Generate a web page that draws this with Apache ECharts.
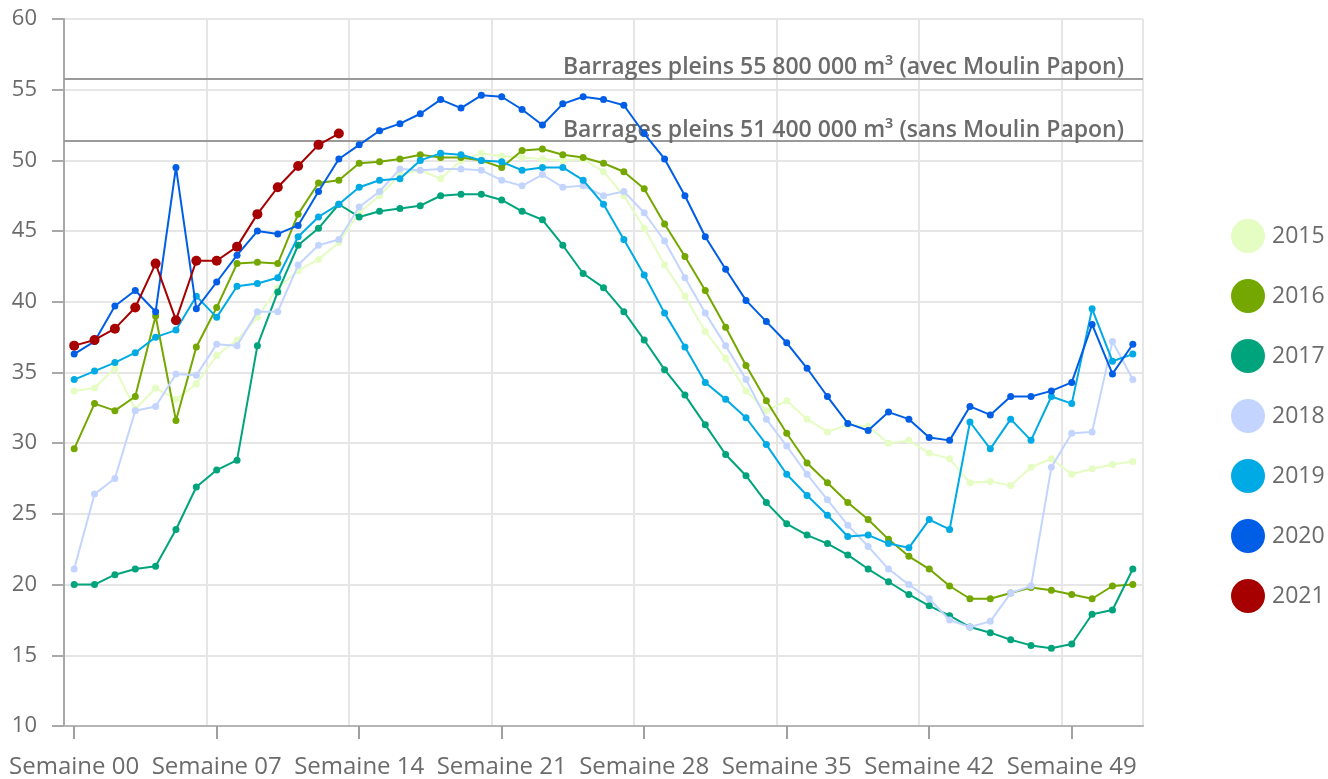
<!DOCTYPE html>
<html lang="fr">
<head>
<meta charset="utf-8">
<title>Remplissage des barrages</title>
<script src="https://cdn.jsdelivr.net/npm/echarts@6/dist/echarts.min.js"></script>
<style>
  html, body { margin: 0; padding: 0; background: #fff; }
  #chart { width: 1328px; height: 779px; }
</style>
</head>
<body>
<div id="chart"></div>
<script>
// Semaines de l'année
const weeks = [
  'Semaine 00','Semaine 01','Semaine 02','Semaine 03','Semaine 04','Semaine 05','Semaine 06',
  'Semaine 07','Semaine 08','Semaine 09','Semaine 10','Semaine 11','Semaine 12','Semaine 13',
  'Semaine 14','Semaine 15','Semaine 16','Semaine 17','Semaine 18','Semaine 19','Semaine 20',
  'Semaine 21','Semaine 22','Semaine 23','Semaine 24','Semaine 25','Semaine 26','Semaine 27',
  'Semaine 28','Semaine 29','Semaine 30','Semaine 31','Semaine 32','Semaine 33','Semaine 34',
  'Semaine 35','Semaine 36','Semaine 37','Semaine 38','Semaine 39','Semaine 40','Semaine 41',
  'Semaine 42','Semaine 43','Semaine 44','Semaine 45','Semaine 46','Semaine 47','Semaine 48',
  'Semaine 49','Semaine 50','Semaine 51','Semaine 52'
];

// Volume stocké (millions de m³) par semaine et par année
const v2015 = [33.7,33.9,35.3,32.4,33.9,33.1,34.2,36.2,37.3,38.9,41.0,42.2,43.0,44.2,46.3,47.5,49.0,49.3,48.7,50.0,50.5,50.3,50.2,50.1,50.0,50.1,49.2,47.5,45.2,42.6,40.4,37.9,36.0,33.7,32.3,33.0,31.7,30.8,31.3,31.2,30.0,30.2,29.3,28.9,27.2,27.3,27.0,28.3,28.9,27.8,28.2,28.5,28.7];
const v2016 = [29.6,32.8,32.3,33.3,39.0,31.6,36.8,39.6,42.7,42.8,42.7,46.2,48.4,48.6,49.8,49.9,50.1,50.4,50.2,50.2,50.0,49.5,50.7,50.8,50.4,50.2,49.8,49.2,48.0,45.5,43.2,40.8,38.2,35.5,33.0,30.7,28.6,27.2,25.8,24.6,23.2,22.0,21.1,19.9,19.0,19.0,19.4,19.8,19.6,19.3,19.0,19.9,20.0];
const v2017 = [20.0,20.0,20.7,21.1,21.3,23.9,26.9,28.1,28.8,36.9,40.7,44.0,45.2,46.9,46.0,46.4,46.6,46.8,47.5,47.6,47.6,47.2,46.4,45.8,44.0,42.0,41.0,39.3,37.3,35.2,33.4,31.3,29.2,27.7,25.8,24.3,23.5,22.9,22.1,21.1,20.2,19.3,18.5,17.8,17.0,16.6,16.1,15.7,15.5,15.8,17.9,18.2,21.1];
const v2018 = [21.1,26.4,27.5,32.3,32.6,34.9,34.8,37.0,36.9,39.3,39.3,42.6,44.0,44.4,46.7,47.8,49.4,49.3,49.4,49.4,49.3,48.6,48.2,49.0,48.1,48.2,47.5,47.8,46.3,44.3,41.7,39.2,36.9,34.5,31.7,29.8,27.8,26.0,24.2,22.7,21.1,20.0,19.0,17.5,17.0,17.4,19.4,19.9,28.3,30.7,30.8,37.2,34.5];
const v2019 = [34.5,35.1,35.7,36.4,37.5,38.0,40.4,38.9,41.1,41.3,41.7,44.6,46.0,46.9,48.1,48.6,48.7,50.0,50.5,50.4,50.0,49.9,49.3,49.5,49.5,48.6,46.9,44.4,41.9,39.2,36.8,34.3,33.1,31.8,29.9,27.8,26.3,24.9,23.4,23.5,22.9,22.6,24.6,23.9,31.5,29.6,31.7,30.2,33.3,32.8,39.5,35.8,36.3];
const v2020 = [36.3,37.2,39.7,40.8,39.3,49.5,39.5,41.4,43.3,45.0,44.8,45.4,47.8,50.1,51.1,52.1,52.6,53.3,54.3,53.7,54.6,54.5,53.6,52.5,54.0,54.5,54.3,53.9,51.9,50.1,47.5,44.6,42.3,40.1,38.6,37.1,35.3,33.3,31.4,30.9,32.2,31.7,30.4,30.2,32.6,32.0,33.3,33.3,33.7,34.3,38.4,34.9,37.0];
const v2021 = [36.9,37.3,38.1,39.6,42.7,38.7,42.9,42.9,43.9,46.2,48.1,49.6,51.1,51.9];

const years  = ['2015','2016','2017','2018','2019','2020','2021'];
const values = [v2015, v2016, v2017, v2018, v2019, v2020, v2021];
const colors = ['#e5fcc2','#74a700','#00a47c','#c3d5ff','#00aae4','#005ee6','#a60000'];

// Capacités de référence
const fullWith    = 55.8;
const fullWithout = 51.4;
const fullWithLabel    = 'Barrages pleins 55 800 000 m³ (avec Moulin Papon)';
const fullWithoutLabel = 'Barrages pleins 51 400 000 m³ (sans Moulin Papon)';

const FONT = 'Open Sans';
const TEXT = '#6b6b6b';

const series = years.map((y, i) => ({
  name: y,
  type: 'line',
  data: values[i],
  color: colors[i],
  symbol: 'circle',
  symbolSize: y === '2021' ? 10 : 7,
  showSymbol: true,
  lineStyle: { width: 2, color: colors[i] },
  itemStyle: { color: colors[i] },
  z: 2 + i
}));

// Lignes de capacité, dessinées au-dessus des courbes
series.push({
  name: 'capacite',
  type: 'line',
  data: [],
  z: 20,
  silent: true,
  markLine: {
    silent: true,
    symbol: ['none', 'none'],
    animation: false,
    lineStyle: { color: '#9a9a9a', width: 2, type: 'solid' },
    label: {
      position: 'insideEndTop',
      color: TEXT,
      fontFamily: FONT,
      fontWeight: 600,
      fontSize: 23,
      padding: [0, 20, 0, 0],
      distance: -1
    },
    data: [
      { yAxis: fullWith,    label: { formatter: fullWithLabel } },
      { yAxis: fullWithout, label: { formatter: fullWithoutLabel } }
    ]
  }
});

const chart = echarts.init(document.getElementById('chart'), null, { renderer: 'canvas' });
chart.setOption({
  animation: false,
  backgroundColor: '#ffffff',
  grid: { left: 64, right: 185, top: 19, bottom: 52, containLabel: false },
  legend: {
    data: years,
    orient: 'vertical',
    left: 1226,
    top: 214,
    icon: 'circle',
    itemWidth: 34,
    itemHeight: 34,
    itemGap: 26,
    textStyle: { color: TEXT, fontFamily: FONT, fontSize: 23, padding: [0, 0, 0, 2] }
  },
  xAxis: {
    type: 'category',
    data: weeks,
    boundaryGap: true,
    axisLine: { show: true, lineStyle: { color: '#b5b5b5', width: 2 } },
    axisTick: { show: true, alignWithLabel: true, interval: 6, length: 13, lineStyle: { color: '#a0a0a0', width: 2 } },
    axisLabel: { interval: 6, color: TEXT, fontFamily: FONT, fontSize: 24, margin: 29 },
    splitLine: { show: true, interval: 6, lineStyle: { color: '#e6e6e6', width: 2 } }
  },
  yAxis: {
    type: 'value',
    min: 10,
    max: 60,
    interval: 5,
    axisLine: { show: true, lineStyle: { color: '#a8a8a8', width: 2 } },
    axisTick: { show: true, length: 12, lineStyle: { color: '#a8a8a8', width: 2 } },
    axisLabel: { color: TEXT, fontFamily: FONT, fontSize: 22, margin: 27 },
    splitLine: { show: true, lineStyle: { color: '#e6e6e6', width: 2 } }
  },
  series: series
});
</script>
</body>
</html>
